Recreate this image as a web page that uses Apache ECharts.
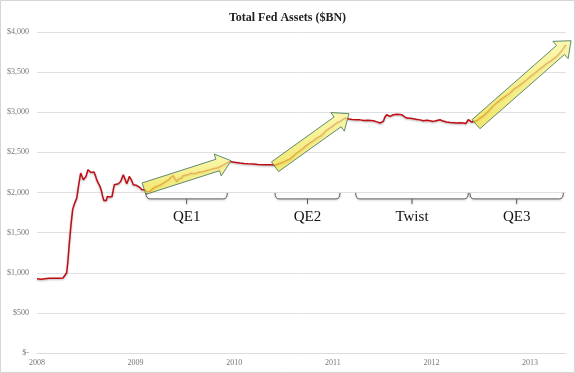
<!DOCTYPE html>
<html><head><meta charset="utf-8">
<script src="https://cdn.jsdelivr.net/npm/echarts@6/dist/echarts.min.js"></script>
<style>html,body{margin:0;padding:0;background:#fff}#c{width:575px;height:373px}</style>
</head><body><div id="c"></div><script>
// ---- data (fractional years, $BN) ----
const xTicks = [2008, 2009, 2010, 2011, 2012, 2013];
const yTicks = [0, 500, 1000, 1500, 2000, 2500, 3000, 3500, 4000];
const dates = [
2008.000,2008.020,2008.041,2008.061,2008.081,2008.101,2008.122,2008.142,2008.162,2008.183,2008.203,2008.223,2008.243,2008.264,2008.284,
2008.301,2008.314,2008.328,2008.345,2008.362,2008.380,2008.403,2008.421,2008.443,2008.456,2008.470,2008.487,2008.497,2008.517,2008.532,
2008.548,2008.563,2008.578,2008.593,2008.605,2008.624,2008.639,2008.654,2008.666,2008.679,2008.690,2008.703,2008.713,2008.725,2008.740,
2008.761,2008.771,2008.784,2008.801,2008.825,2008.849,2008.862,2008.875,2008.892,2008.910,2008.923,2008.936,2008.948,2008.960,2008.977,
2008.994,2009.009,2009.027,2009.045,2009.065,2009.085,2009.095,2009.116,2009.146,2009.166,2009.197,2009.227,2009.247,2009.281,2009.308,
2009.339,2009.359,2009.382,2009.400,2009.417,2009.440,2009.468,2009.481,2009.501,2009.531,2009.562,2009.592,2009.620,2009.653,2009.684,
2009.721,2009.755,2009.785,2009.823,2009.856,2009.886,2009.924,2009.957,2009.988,2010.018,2010.059,2010.099,2010.140,2010.194,2010.241,
2010.295,2010.343,2010.380,2010.414,2010.444,2010.485,2010.525,2010.566,2010.596,2010.634,2010.667,2010.698,2010.728,2010.769,2010.799,
2010.830,2010.870,2010.901,2010.931,2010.972,2011.002,2011.032,2011.073,2011.103,2011.124,2011.164,2011.195,2011.242,2011.276,2011.316,
2011.357,2011.411,2011.448,2011.479,2011.512,2011.529,2011.547,2011.560,2011.580,2011.614,2011.651,2011.699,2011.722,2011.750,2011.783,
2011.817,2011.854,2011.884,2011.918,2011.955,2011.986,2012.019,2012.047,2012.087,2012.118,2012.155,2012.189,2012.219,2012.257,2012.290,
2012.323,2012.351,2012.374,2012.409,2012.425,2012.459,2012.493,2012.533,2012.574,2012.628,2012.665,2012.706,2012.746,2012.797,2012.838,
2012.878,2012.919,2012.966,2013.000,2013.041,2013.081,2013.135,2013.172,2013.213,2013.271,2013.304,2013.335,2013.365
];
const assets = [
925,918,920,928,925,935,930,938,932,930,932,930,932,935,945,
1000,1150,1370,1600,1790,1860,1930,2080,2243,2220,2160,2150,2200,2284,2275,
2250,2243,2255,2210,2160,2110,2076,2020,1951,1900,1881,1900,1951,1960,1944,
1950,1930,2097,2105,2110,2138,2180,2222,2170,2110,2150,2200,2190,2150,2097,
2110,2090,2076,2060,2035,2030,2035,2010,2014,2040,2068,2080,2100,2118,2140,
2160,2190,2209,2170,2138,2170,2180,2210,2234,2220,2240,2235,2243,2255,2260,
2275,2285,2295,2305,2320,2340,2367,2387,2380,2375,2367,2362,2358,2355,2350,
2346,2346,2346,2340,2355,2370,2395,2417,2450,2492,2520,2550,2580,2617,2640,
2670,2700,2730,2770,2804,2830,2860,2886,2910,2928,2915,2910,2907,2905,2898,
2900,2894,2880,2866,2886,2940,2969,2955,2948,2969,2975,2969,2950,2928,2925,
2919,2910,2905,2894,2900,2895,2886,2895,2907,2890,2878,2872,2870,2866,2868,
2866,2860,2907,2878,2886,2894,2928,2960,3010,3081,3120,3160,3195,3240,3290,
3320,3360,3405,3440,3480,3520,3571,3610,3640,3696,3740,3790,3841
];
// programme arrows: [startYear, startValue, endYear, endValue]
const arrowStart = [[2009.085, 2048], [2010.414, 2321], [2012.452, 2851]];
const arrowEnd   = [[2009.968, 2396], [2011.164, 2982], [2013.416, 3891]];
// programme brackets
const programmes = ['QE1', 'QE2', 'Twist', 'QE3'];
const progStart = [2009.105, 2010.414, 2011.232, 2012.391];
const progEnd   = [2009.930, 2011.073, 2012.374, 2013.338];
const bracketLevel = 1920;

const chart = echarts.init(document.getElementById('c'), null, {renderer: 'canvas'});
const lineData = dates.map((d, i) => [d, assets[i]]);
const arrowData = arrowStart.map((s, i) => [s[0], s[1], arrowEnd[i][0], arrowEnd[i][1]]);
const bracketData = programmes.map((p, i) => [progStart[i], progEnd[i], bracketLevel, p]);

function renderArrow(params, api) {
  const a = api.coord([api.value(0), api.value(1)]);
  const b = api.coord([api.value(2), api.value(3)]);
  const dx = b[0] - a[0], dy = b[1] - a[1];
  const len = Math.sqrt(dx * dx + dy * dy);
  const ux = dx / len, uy = dy / len, nx = -uy, ny = ux;
  const bw = 6, hw = 11.5, hl = 14;
  const hx = b[0] - ux * hl, hy = b[1] - uy * hl;
  const pts = [
    [a[0] + nx * bw, a[1] + ny * bw],
    [hx + nx * bw, hy + ny * bw],
    [hx + nx * hw, hy + ny * hw],
    [b[0], b[1]],
    [hx - nx * hw, hy - ny * hw],
    [hx - nx * bw, hy - ny * bw],
    [a[0] - nx * bw, a[1] - ny * bw]
  ];
  return {
    type: 'polygon',
    shape: {points: pts},
    style: {
      fill: new echarts.graphic.LinearGradient(0, 0, 0, 1, [
        {offset: 0, color: 'rgba(250,246,150,0.75)'},
        {offset: 1, color: 'rgba(238,222,60,0.75)'}
      ]),
      stroke: '#5f8a6c',
      lineWidth: 1
    }
  };
}

function renderBracket(params, api) {
  const a = api.coord([api.value(0), api.value(2)]);
  const b = api.coord([api.value(1), api.value(2)]);
  const y = a[1], x0 = a[0], x1 = b[0], xm = (x0 + x1) / 2;
  const path = 'M' + x0 + ' ' + (y - 6) + ' Q' + x0 + ' ' + y + ' ' + (x0 + 4) + ' ' + y +
    ' L' + (x1 - 4) + ' ' + y + ' Q' + x1 + ' ' + y + ' ' + x1 + ' ' + (y - 6) +
    ' M' + xm + ' ' + y + ' L' + xm + ' ' + (y + 5);
  return {
    type: 'group',
    children: [
      {type: 'path', shape: {pathData: path},
       style: {fill: null, stroke: '#5a5a5a', lineWidth: 1, shadowBlur: 2, shadowColor: 'rgba(0,0,0,0.25)', shadowOffsetY: 1}},
      {type: 'text', x: xm, y: y + 18,
       style: {text: api.value(3), fill: '#111', font: '15px "Liberation Serif", serif', align: 'center', verticalAlign: 'middle'}}
    ]
  };
}

chart.setOption({
  animation: false,
  backgroundColor: '#fff',
  title: {
    text: 'Total Fed Assets ($BN)', left: 'center', top: 7,
    textStyle: {fontFamily: '"Liberation Serif", serif', fontSize: 12, fontWeight: 'bold', color: '#222'}
  },
  graphic: [{type: 'rect', shape: {x: 0.5, y: 0.5, width: 574, height: 372},
    style: {fill: null, stroke: '#d6d6d6', lineWidth: 1}, silent: true}],
  grid: {left: 37, right: 9, top: 32, bottom: 20, containLabel: false},
  xAxis: {
    type: 'value', min: xTicks[0], max: 2013.365, interval: 1,
    axisLine: {show: true, lineStyle: {color: '#dcdcdc'}},
    axisTick: {show: false},
    splitLine: {show: false},
    axisLabel: {
      color: '#777', fontSize: 8, fontFamily: '"Liberation Serif", serif', margin: 6,
      formatter: v => xTicks.indexOf(Math.round(v * 1000) / 1000) >= 0 ? String(v) : ''
    }
  },
  yAxis: {
    type: 'value', min: yTicks[0], max: yTicks[yTicks.length - 1], interval: 500,
    axisLine: {show: false}, axisTick: {show: false},
    splitLine: {lineStyle: {color: '#e0e0e0', width: 1}},
    axisLabel: {
      color: '#777', fontSize: 8, fontFamily: '"Liberation Serif", serif', margin: 8,
      formatter: v => v === 0 ? '$-' : '$' + v.toLocaleString('en-US')
    }
  },
  series: [
    {type: 'line', data: lineData, showSymbol: false, z: 2,
     lineStyle: {color: '#c00d14', width: 1.5, shadowBlur: 2, shadowColor: 'rgba(0,0,0,0.3)', shadowOffsetY: 1}},
    {type: 'custom', data: arrowData, renderItem: renderArrow, z: 3, clip: false,
     encode: {x: [0, 2], y: [1, 3]}},
    {type: 'custom', data: bracketData, renderItem: renderBracket, z: 3, clip: false,
     dimensions: ['x0', 'x1', 'y', {name: 'label', type: 'ordinal'}],
     encode: {x: [0, 1], y: 2}}
  ]
});
</script></body></html>
